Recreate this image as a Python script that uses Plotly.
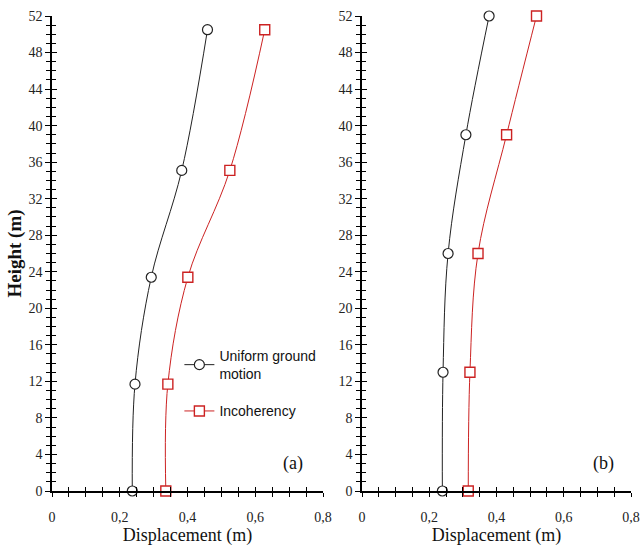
import plotly.graph_objects as go

# Panel (a)
height_a = [0, 11.7, 23.4, 35.1, 50.5]
uniform_a = [0.237, 0.245, 0.293, 0.383, 0.459]
incoh_a = [0.336, 0.342, 0.401, 0.525, 0.628]

# Panel (b)
height_b = [0, 13.0, 26.0, 39.0, 52.0]
uniform_b = [0.239, 0.241, 0.256, 0.309, 0.378]
incoh_b = [0.316, 0.321, 0.345, 0.430, 0.519]

x_ticks = [0, 0.2, 0.4, 0.6, 0.8]
x_ticktext = ["0", "0,2", "0,4", "0,6", "0,8"]
y_ticks = list(range(0, 53, 4))

BLACK = "#222222"
RED = "#cc2222"
SERIF = "Liberation Serif"
SANS = "Liberation Sans"

fig = go.Figure()

def add_pair(xa, ya, h, u, c, show):
    fig.add_trace(go.Scatter(
        x=u, y=h, xaxis=xa, yaxis=ya, mode="lines+markers",
        name="Uniform ground<br>motion", legendgroup="u", showlegend=show,
        line=dict(color=BLACK, width=1, shape="spline", smoothing=1),
        marker=dict(symbol="circle", size=10, color="white",
                    line=dict(color=BLACK, width=1.2)),
        cliponaxis=False))
    fig.add_trace(go.Scatter(
        x=c, y=h, xaxis=xa, yaxis=ya, mode="lines+markers",
        name="Incoherency", legendgroup="c", showlegend=show,
        line=dict(color=RED, width=1, shape="spline", smoothing=1),
        marker=dict(symbol="square", size=10, color="white",
                    line=dict(color=RED, width=1.4)),
        cliponaxis=False))

add_pair("x", "y", height_a, uniform_a, incoh_a, True)
add_pair("x2", "y2", height_b, uniform_b, incoh_b, False)

# invisible traces for overlay (inside-tick) axes
fig.add_trace(go.Scatter(x=[None], y=[None], xaxis="x3", yaxis="y3", showlegend=False, hoverinfo="skip"))
fig.add_trace(go.Scatter(x=[None], y=[None], xaxis="x4", yaxis="y4", showlegend=False, hoverinfo="skip"))

tickfont = dict(family=SERIF, size=14, color="#222222")
titlefont = dict(family=SERIF, size=18, color="#111111")

def xax(domain, anchor, title):
    return dict(domain=domain, anchor=anchor, range=[0, 0.8], tickvals=x_ticks, ticktext=x_ticktext,
                ticks="outside", ticklen=4, tickwidth=1, tickcolor="black",
                minor=dict(dtick=0.05, tick0=0, ticks="outside", ticklen=4, tickcolor="black", tickwidth=1),
                showline=True, linecolor="black", linewidth=1.5, showgrid=False, zeroline=False,
                tickfont=tickfont, ticklabelstandoff=8, automargin=False,
                title=dict(text=title, font=titlefont, standoff=4))

def yax(domain, anchor, title):
    return dict(domain=domain, anchor=anchor, range=[0, 52], tickvals=y_ticks,
                ticks="outside", ticklen=5, tickwidth=1, tickcolor="black",
                minor=dict(dtick=1, tick0=0, ticks="outside", ticklen=4, tickcolor="black", tickwidth=1),
                showline=True, linecolor="black", linewidth=1.5, showgrid=False, zeroline=False,
                tickfont=tickfont, automargin=False,
                title=dict(text=title, font=dict(family=SERIF, size=19, color="#111111", weight="bold"),
                           standoff=2))

def xover(base, anchor):
    return dict(overlaying=base, anchor=anchor, side="bottom", range=[0, 0.8], tickvals=x_ticks,
                ticks="inside", ticklen=4, tickwidth=1, tickcolor="black", showticklabels=False,
                minor=dict(dtick=0.05, tick0=0, ticks="inside", ticklen=4, tickcolor="black", tickwidth=1),
                showline=False, showgrid=False, zeroline=False, automargin=False)

def yover(base, anchor):
    return dict(overlaying=base, anchor=anchor, side="left", range=[0, 52], tickvals=y_ticks,
                ticks="inside", ticklen=5, tickwidth=1, tickcolor="black", showticklabels=False,
                minor=dict(dtick=1, tick0=0, ticks="inside", ticklen=4, tickcolor="black", tickwidth=1),
                showline=False, showgrid=False, zeroline=False, automargin=False)

PW = 643 - 52 - 12
dom_a = [0, 271 / PW]
dom_b = [310 / PW, 1]

fig.update_layout(
    width=643, height=551,
    margin=dict(l=52, r=12, t=16, b=60, autoexpand=False),
    paper_bgcolor="white", plot_bgcolor="white",
    separators=", ",
    xaxis=xax(dom_a, "y", "Displacement (m)"),
    yaxis=yax([0, 1], "x", "Height (m)"),
    xaxis2=xax(dom_b, "y2", "Displacement (m)"),
    yaxis2=yax([0, 1], "x2", ""),
    xaxis3=xover("x", "y"),
    yaxis3=yover("y", "x"),
    xaxis4=xover("x2", "y2"),
    yaxis4=yover("y2", "x2"),
    legend=dict(x=0.22, y=0.318, xanchor="left", yanchor="top",
                traceorder="grouped", tracegroupgap=16,
                font=dict(family=SANS, size=14, color="#111111"),
                bgcolor="rgba(0,0,0,0)", itemwidth=30),
    annotations=[
        dict(text="(a)", x=0.71, y=3.0, xref="x", yref="y", showarrow=False,
             font=dict(family=SERIF, size=18, color="#111111")),
        dict(text="(b)", x=0.718, y=3.0, xref="x2", yref="y2", showarrow=False,
             font=dict(family=SERIF, size=18, color="#111111")),
    ],
)

fig.write_html("out.html")
